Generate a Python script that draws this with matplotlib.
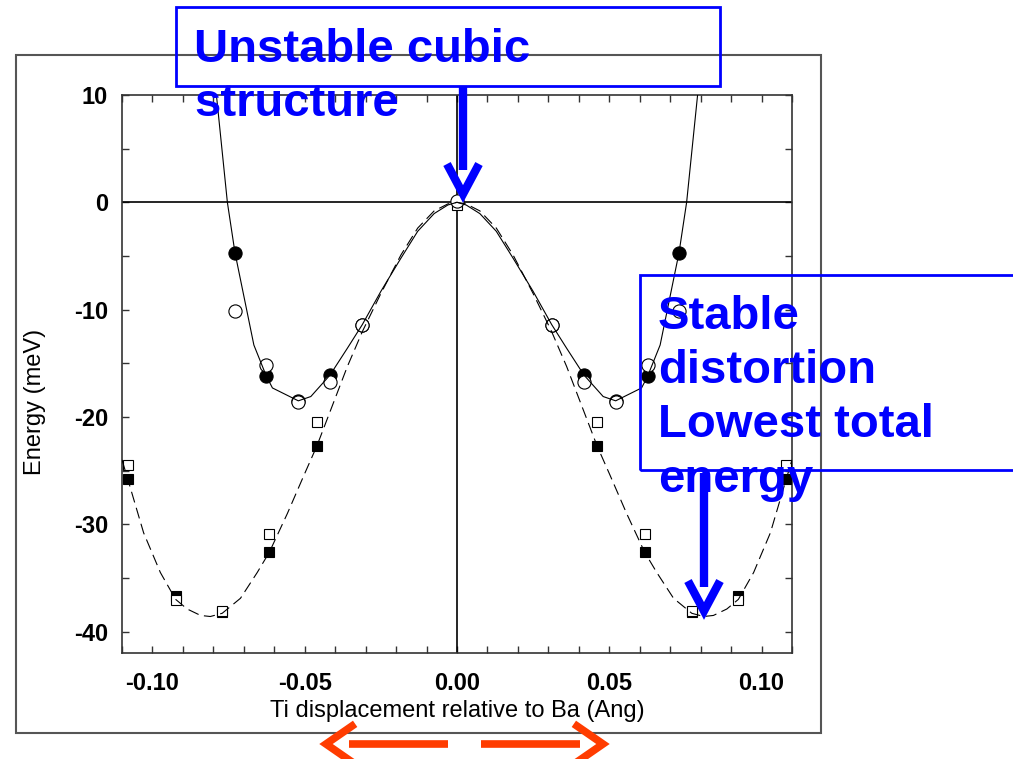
import matplotlib
matplotlib.use('Agg')
import matplotlib.pyplot as plt
from matplotlib.lines import Line2D
from matplotlib.patches import Rectangle
from matplotlib.ticker import MultipleLocator, FormatStrFormatter

plt.rcParams['font.family'] = ['Liberation Sans', 'DejaVu Sans']
plt.rcParams['axes.unicode_minus'] = False
plt.rcParams['lines.scale_dashes'] = False

# energies (meV) vs Ti displacement (Ang)
fcirc_x = [-0.0729, -0.0626, -0.0521, -0.0417, -0.0311, 0.0311, 0.0417, 0.0521, 0.0626, 0.0729]
fcirc_E = [-4.7, -16.2, -18.5, -16.1, -11.4, -11.4, -16.1, -18.5, -16.2, -4.7]
ocirc_x = [-0.0729, -0.0626, -0.0521, -0.0417, -0.0311, 0.0, 0.0311, 0.0417, 0.0521, 0.0626, 0.0729]
ocirc_E = [-10.1, -15.2, -18.6, -16.7, -11.4, 0.1, -11.4, -16.7, -18.6, -15.2, -10.1]
fsq_x = [-0.1081, -0.0924, -0.0771, -0.0616, -0.0460, 0.0460, 0.0616, 0.0771, 0.0924, 0.1081]
fsq_E = [-25.8, -36.7, -38.2, -32.6, -22.7, -22.7, -32.6, -38.2, -36.7, -25.8]
osq_x = [-0.1081, -0.0924, -0.0771, -0.0616, -0.0460, 0.0, 0.0460, 0.0616, 0.0771, 0.0924, 0.1081]
osq_E = [-24.5, -37.1, -38.1, -30.9, -20.5, -0.25, -20.5, -30.9, -38.1, -37.1, -24.5]

# fitted curves (left half, mirrored)
solid_x = [-0.0800, -0.0790, -0.0754, -0.0729, -0.0667, -0.0626, -0.0606, -0.0521, -0.0480,
           -0.0417, -0.0360, -0.0311, -0.0250, -0.0184, -0.0129, -0.0075, -0.0030, 0.0]
solid_E = [12.0, 10.0, 0.0, -4.7, -13.3, -16.2, -17.3, -18.5, -18.1,
           -16.1, -13.6, -11.4, -8.3, -5.2, -2.7, -1.05, -0.25, 0.0]
dash_x = [-0.1100, -0.1081, -0.1029, -0.0974, -0.0924, -0.0886, -0.0842, -0.0810, -0.0771,
          -0.0711, -0.0656, -0.0616, -0.0557, -0.0502, -0.0460, -0.0410, -0.0360, -0.0310,
          -0.0250, -0.0184, -0.0129, -0.0075, -0.0030, 0.0]
dash_E = [-24.0, -25.8, -30.8, -34.5, -37.0, -37.9, -38.5, -38.6, -38.3,
          -36.9, -34.5, -32.6, -29.0, -25.4, -22.7, -19.0, -15.3, -12.0,
          -8.5, -4.9, -2.4, -0.8, -0.15, 0.0]


def mirror(xs, ys):
    return xs + [-v for v in xs[-2::-1]], ys + ys[-2::-1]


W, H = 1013, 759
def fx(px):
    return px / W
def fy(py):
    return 1 - py / H


fig = plt.figure(figsize=(W / 100, H / 100), dpi=100)
ax = fig.add_axes([fx(122), fy(653), fx(792) - fx(122), fy(95) - fy(653)])

sx, sE = mirror(solid_x, solid_E)
dx, dE = mirror(dash_x, dash_E)
ax.plot(sx, sE, color='black', lw=0.8, zorder=5)
ax.plot(dx, dE, color='black', lw=0.8, dashes=(8, 4), zorder=5)

ax.plot(fsq_x, fsq_E, 's', ms=7.5, mfc='black', mec='black', mew=0.8, zorder=3)
ax.plot(osq_x, osq_E, 's', ms=7.5, mfc='white', mec='black', mew=0.8, zorder=4)
ax.plot(fcirc_x, fcirc_E, 'o', ms=9.5, mfc='black', mec='black', mew=0.8, zorder=3)
ax.plot(ocirc_x, ocirc_E, 'o', ms=9.5, mfc='white', mec='black', mew=0.8, zorder=4)

ax.axhline(0, color='black', lw=1.2, zorder=2)
ax.axvline(0, color='black', lw=1.2, zorder=2)

ax.set_xlim(-0.11, 0.11)
ax.set_ylim(-42, 10)
ax.xaxis.set_major_locator(MultipleLocator(0.05))
ax.xaxis.set_minor_locator(MultipleLocator(0.01))
ax.xaxis.set_major_formatter(FormatStrFormatter('%.2f'))
ax.yaxis.set_major_locator(MultipleLocator(10))
ax.yaxis.set_minor_locator(MultipleLocator(5))
ax.tick_params(which='both', direction='in', top=True, right=True, length=5, width=1, color='#333333')
ax.tick_params(axis='y', which='major', labelsize=17, pad=10)
ax.tick_params(axis='x', which='major', labelsize=17, pad=14)
for lab in ax.get_xticklabels() + ax.get_yticklabels():
    lab.set_fontweight('bold')
for sp in ax.spines.values():
    sp.set_color('#333333')
    sp.set_linewidth(1.2)

ax.set_xlabel('Ti displacement relative to Ba (Ang)', fontsize=17)
ax.xaxis.set_label_coords(0.5, -0.085)
ax.set_ylabel('Energy (meV)', fontsize=17)
ax.yaxis.set_label_coords(-0.114, 0.45)

# outer frame of the plot panel
fig.add_artist(Rectangle((fx(16), fy(733)), fx(821) - fx(16), fy(55) - fy(733),
                         transform=fig.transFigure, fill=False, ec='#555555', lw=1.5, zorder=0))

blue = '#0000ff'
# annotation boxes
fig.add_artist(Rectangle((fx(176), fy(86)), fx(720) - fx(176), fy(7) - fy(86),
                         transform=fig.transFigure, fill=False, ec=blue, lw=2))
fig.add_artist(Rectangle((fx(640), fy(470)), fx(1030) - fx(640), fy(275) - fy(470),
                         transform=fig.transFigure, fill=False, ec=blue, lw=2, clip_on=False))
fig.text(fx(194), fy(28), 'Unstable cubic\nstructure', color=blue, fontsize=34,
         fontweight='bold', va='top', ha='left', linespacing=1.3)
fig.text(fx(658), fy(295), 'Stable\ndistortion\nLowest total\nenergy', color=blue, fontsize=34,
         fontweight='bold', va='top', ha='left', linespacing=1.3)


def arrow_down(x, y0, y1, color):
    fig.add_artist(Line2D([fx(x), fx(x)], [fy(y0), fy(y1)], transform=fig.transFigure,
                          color=color, lw=6, solid_capstyle='butt'))
    fig.add_artist(Line2D([fx(x - 16), fx(x), fx(x + 16)], [fy(y1 - 6), fy(y1 + 24), fy(y1 - 6)],
                          transform=fig.transFigure, color=color, lw=6,
                          solid_joinstyle='miter', solid_capstyle='butt'))


arrow_down(463, 86, 170, blue)
arrow_down(704, 473, 587, blue)

# orange displacement arrows under the axis
orange = '#ff3c00'
yb = 744
fig.add_artist(Line2D([fx(349), fx(448)], [fy(yb), fy(yb)], transform=fig.transFigure,
                      color=orange, lw=5.5, solid_capstyle='butt'))
fig.add_artist(Line2D([fx(352), fx(326), fx(352)], [fy(yb - 18), fy(yb), fy(yb + 18)],
                      transform=fig.transFigure, color=orange, lw=5.5, solid_joinstyle='miter'))
fig.add_artist(Line2D([fx(481), fx(580)], [fy(yb), fy(yb)], transform=fig.transFigure,
                      color=orange, lw=5.5, solid_capstyle='butt'))
fig.add_artist(Line2D([fx(577), fx(603), fx(577)], [fy(yb - 18), fy(yb), fy(yb + 18)],
                      transform=fig.transFigure, color=orange, lw=5.5, solid_joinstyle='miter'))

fig.savefig('out.png', dpi=100)
